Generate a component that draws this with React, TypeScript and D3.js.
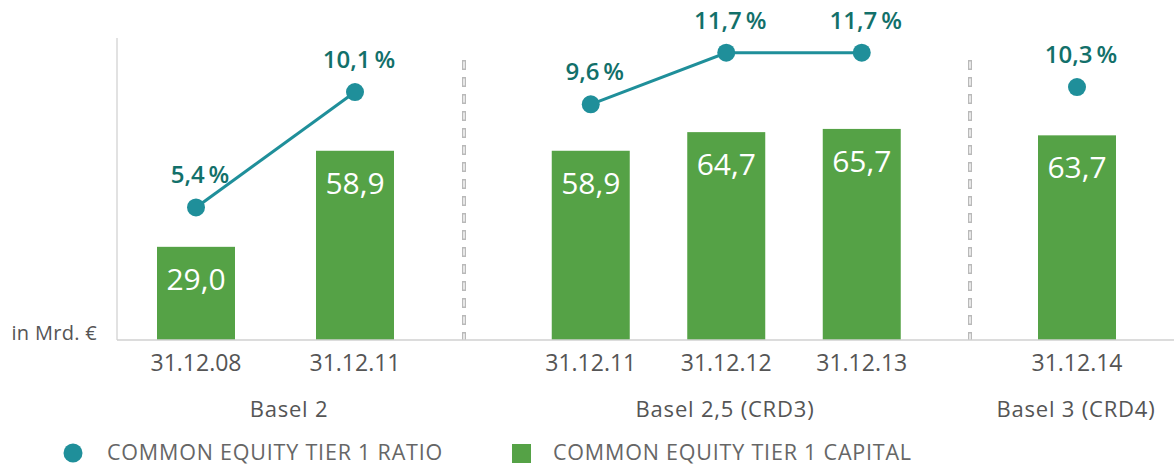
import React, { useEffect } from 'react';
import * as d3 from 'd3';

// ---- data ----
const panelNames = ['Basel 2', 'Basel 2,5 (CRD3)', 'Basel 3 (CRD4)'];
const dates = ['31.12.08', '31.12.11', '31.12.11', '31.12.12', '31.12.13', '31.12.14'];
const panelOf = [0, 0, 1, 1, 1, 2];
const capital = [29.0, 58.9, 58.9, 64.7, 65.7, 63.7];
const ratio = [5.4, 10.1, 9.6, 11.7, 11.7, 10.3];
const legendLabels = ['COMMON EQUITY TIER 1 RATIO', 'COMMON EQUITY TIER 1 CAPITAL'];
const unitLabel = 'in Mrd. €';

// ---- layout ----
const W = 1174;
const H = 467;
const Y0 = 340;
const YTOP = 38;
const AXIS_X = 117;
const panelRanges: [number, number][] = [
  [116.5, 434.5],
  [523, 929.5],
  [990, 1164],
];
const panelLabelX = [289, 725, 1076];
const separatorsX = [464, 970];
const BAR_W = 78;

const GREEN = '#55a246';
const TEAL = '#1f8f9a';
const TEAL_TEXT = '#12706a';
const GREY_TEXT = '#555555';
const FONT = "'Open Sans', 'Noto Sans', sans-serif";

const locale = d3.formatLocale({ decimal: ',', thousands: '.', grouping: [3], currency: ['', '€'] });
const fmt = locale.format('.1f');

export default function App() {
  useEffect(() => {
    document.body.style.margin = '0';
  }, []);

  const yBar = d3.scaleLinear().domain([0, 94]).range([Y0, YTOP]);
  const yRatio = d3.scaleLinear().domain([0, 12.3]).range([Y0, YTOP]);

  const xScales = panelRanges.map((r, p) =>
    d3
      .scalePoint<number>()
      .domain(dates.map((_, i) => i).filter((i) => panelOf[i] === p))
      .range(r)
      .padding(0.5)
  );
  const xOf = (i: number) => xScales[panelOf[i]](i) as number;

  const line = d3
    .line<number>()
    .x((i) => xOf(i))
    .y((i) => yRatio(ratio[i]));

  const panelIdx = panelNames.map((_, p) => dates.map((_, i) => i).filter((i) => panelOf[i] === p));

  return (
    <svg width={W} height={H} style={{ display: 'block', fontFamily: FONT }}>
      {/* axes */}
      <line x1={AXIS_X} x2={AXIS_X} y1={YTOP} y2={Y0} stroke="#d9d9d9" strokeWidth={1.5} />
      {/* separators */}
      {separatorsX.map((x, k) => (
        <g key={'sep' + k}>
          <line x1={x} x2={x} y1={60} y2={Y0} stroke="#b9b9b9" strokeWidth={4} strokeDasharray="10 7" />
          <line x1={x} x2={x} y1={61.5} y2={Y0} stroke="#ffffff" strokeWidth={1.3} strokeDasharray="7 10" />
        </g>
      ))}
      {/* bars */}
      {capital.map((v, i) => (
        <g key={'bar' + i}>
          <rect x={xOf(i) - BAR_W / 2} y={yBar(v)} width={BAR_W} height={Y0 - yBar(v)} fill={GREEN} />
          <text
            x={xOf(i)}
            y={yBar(v) + 43}
            textAnchor="middle"
            fill="#ffffff"
            fontSize={30}
            fontWeight={500}
          >
            {fmt(v)}
          </text>
        </g>
      ))}
      <line x1={AXIS_X} x2={W} y1={Y0} y2={Y0} stroke="#d0d0d0" strokeWidth={1.5} />
      {/* ratio line */}
      {panelIdx.map((idx, p) =>
        idx.length > 1 ? (
          <path key={'ln' + p} d={line(idx) || ''} fill="none" stroke={TEAL} strokeWidth={3} />
        ) : null
      )}
      {ratio.map((v, i) => (
        <g key={'pt' + i}>
          <circle cx={xOf(i)} cy={yRatio(v)} r={9} fill={TEAL} />
          <text
            x={xOf(i) + 4}
            y={yRatio(v) - 24}
            textAnchor="middle"
            fill={TEAL_TEXT}
            fontSize={24}
            fontWeight={600}
          >
            {fmt(v) + '\u2009%'}
          </text>
        </g>
      ))}
      {/* x labels */}
      {dates.map((d, i) => (
        <text key={'xl' + i} x={xOf(i)} y={371} textAnchor="middle" fill={GREY_TEXT} fontSize={23} fontWeight={500}>
          {d}
        </text>
      ))}
      {panelNames.map((n, p) => (
        <text
          key={'pn' + p}
          x={panelLabelX[p]}
          y={417}
          textAnchor="middle"
          fill={GREY_TEXT}
          fontSize={22}
          fontWeight={500}
          letterSpacing={0.8}
        >
          {n}
        </text>
      ))}
      <text x={97} y={340} textAnchor="end" fill={GREY_TEXT} fontSize={20} fontWeight={500} letterSpacing={0.3}>
        {unitLabel}
      </text>
      {/* legend */}
      <circle cx={73} cy={453} r={9.5} fill={TEAL} />
      <text x={107} y={460} fill="#666666" fontSize={21.5} letterSpacing={0.8}>
        {legendLabels[0]}
      </text>
      <rect x={512} y={444} width={19} height={19} fill={GREEN} />
      <text x={553} y={460} fill="#666666" fontSize={21.5} letterSpacing={0.8}>
        {legendLabels[1]}
      </text>
    </svg>
  );
}
